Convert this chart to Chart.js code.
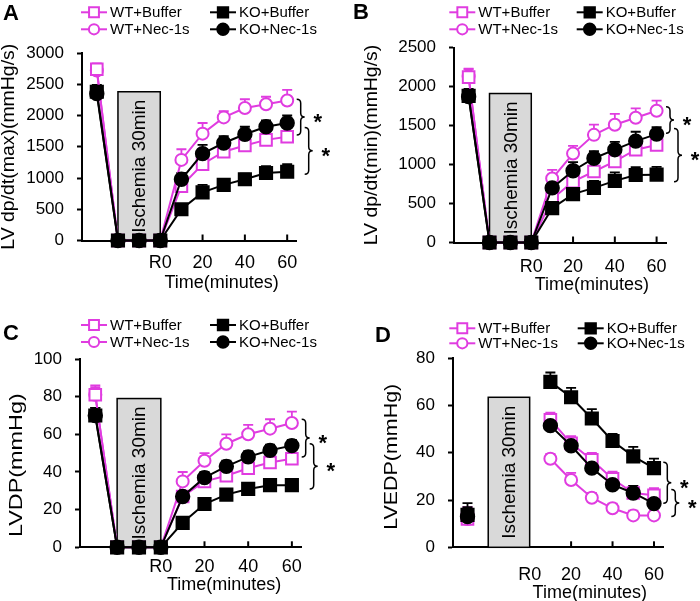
<!DOCTYPE html>
<html>
<head>
<meta charset="utf-8">
<script src="https://cdn.jsdelivr.net/npm/chart.js@4.4.0/dist/chart.umd.min.js"></script>
<style>
  html, body { margin: 0; padding: 0; background: #fff; }
  #wrap { position: relative; width: 700px; height: 601px; overflow: hidden; }
  canvas { position: absolute; }
</style>
</head>
<body>
<div id="wrap">
  <canvas id="panelA" width="350" height="300" style="left:0;top:0"></canvas>
  <canvas id="panelB" width="350" height="300" style="left:350px;top:0"></canvas>
  <canvas id="panelC" width="350" height="301" style="left:0;top:300px"></canvas>
  <canvas id="panelD" width="350" height="301" style="left:350px;top:300px"></canvas>
</div>
<script>
// os czasu: baseline, 3 punkty niedokrwienia, R0 i reperfuzja
const timePoints = [-30, -20, -10, 0, 10, 20, 30, 40, 50, 60];
const xTickValues = [0, 20, 40, 60];
const seriesLabels = ['WT+Buffer', 'WT+Nec-1s', 'KO+Buffer', 'KO+Nec-1s'];

// A - LV dp/dt(max)
const dpdtMaxWtBuffer = [2740, 0, 0, 0, 870, 1220, 1420, 1520, 1610, 1660];
const dpdtMaxWtNec = [2720, 0, 0, 0, 1290, 1710, 1970, 2120, 2180, 2240];
const dpdtMaxKoBuffer = [2380, 0, 0, 0, 500, 770, 890, 980, 1080, 1100];
const dpdtMaxKoNec = [2350, 0, 0, 0, 980, 1390, 1560, 1700, 1820, 1880];
const dpdtMaxWtBufferErr = [90, 0, 0, 0, 70, 90, 70, 70, 70, 60];
const dpdtMaxWtNecErr = [110, 0, 0, 0, 170, 170, 100, 140, 120, 170];
const dpdtMaxKoBufferErr = [110, 0, 0, 0, 80, 120, 80, 90, 110, 120];
const dpdtMaxKoNecErr = [120, 0, 0, 0, 100, 140, 110, 120, 100, 120];

// B - LV dp/dt(min)
const dpdtMinWtBuffer = [2120, 0, 0, 0, 560, 780, 910, 1040, 1190, 1250];
const dpdtMinWtNec = [2130, 0, 0, 0, 820, 1140, 1380, 1510, 1600, 1690];
const dpdtMinKoBuffer = [1880, 0, 0, 0, 440, 620, 700, 790, 865, 870];
const dpdtMinKoNec = [1870, 0, 0, 0, 700, 920, 1080, 1190, 1300, 1390];
const dpdtMinWtBufferErr = [100, 0, 0, 0, 60, 70, 70, 80, 70, 60];
const dpdtMinWtNecErr = [100, 0, 0, 0, 110, 100, 130, 140, 120, 130];
const dpdtMinKoBufferErr = [90, 0, 0, 0, 70, 80, 90, 110, 100, 100];
const dpdtMinKoNecErr = [80, 0, 0, 0, 90, 110, 90, 100, 120, 90];

// C - LVDP
const lvdpWtBuffer = [81, 0, 0, 0, 27, 35, 38, 42, 45, 47];
const lvdpWtNec = [81, 0, 0, 0, 35, 46, 55, 60, 63, 66];
const lvdpKoBuffer = [70, 0, 0, 0, 13, 23, 28, 31, 33, 33];
const lvdpKoNec = [70, 0, 0, 0, 27, 37, 43, 48, 51.5, 54];
const lvdpWtBufferErr = [4, 0, 0, 0, 3, 3, 3, 3, 3, 3];
const lvdpWtNecErr = [5, 0, 0, 0, 5, 4, 5, 5, 5, 6];
const lvdpKoBufferErr = [4, 0, 0, 0, 3, 3, 3, 3, 3, 3];
const lvdpKoNecErr = [4, 0, 0, 0, 3, 3, 3, 3, 3, 3];

// D - LVEDP (brak pomiarow w czasie niedokrwienia)
const lvedpWtBuffer = [12, null, null, null, 54, 44, 37, 29, 23, 22];
const lvedpWtNec = [12, null, null, null, 37.5, 28.5, 21, 16.5, 13.5, 13.5];
const lvedpKoBuffer = [13.7, null, null, null, 70, 63.5, 54.5, 45, 38.5, 33.5];
const lvedpKoNec = [13, null, null, null, 51.5, 43, 33.5, 26.5, 23, 18.5];
const lvedpWtBufferErr = [5, 0, 0, 0, 3, 3, 3, 3, 3, 3];
const lvedpWtNecErr = [4, 0, 0, 0, 2, 3, 2, 2, 2, 2];
const lvedpKoBufferErr = [5, 0, 0, 0, 4, 4, 4, 3, 4, 4];
const lvedpKoNecErr = [4, 0, 0, 0, 3, 3, 3, 3, 3, 3];

const panelLetters = ['A', 'B', 'C', 'D'];
const yTitles = ['LV dp/dt(max)(mmHg/s)', 'LV dp/dt(min)(mmHg/s)', 'LVDP(mmHg)', 'LVEDP(mmHg)'];
const yMaxValues = [3000, 2500, 100, 80];
const yStepValues = [500, 500, 20, 20];
const ischemiaRange = [-20, 0];
const ischemiaTop = [2380, 1910, 79, 63.5];
const braceA = [[2260, 1690], [1810, 1060]];
const braceB = [[1740, 1400], [1460, 780]];
const braceC = [[68, 48], [55, 31]];
const braceD = [[36, 18.6], [24.5, 13]];

const FONT = 'Arial, "Liberation Sans", Helvetica, sans-serif';
const MAGENTA = '#e03ce0';
Chart.defaults.font.family = FONT;
Chart.defaults.color = '#000';

const seriesStyles = [
    { color: MAGENTA, pointStyle: 'rect', radius: 8.2, fill: '#fff', order: 1 },
    { color: MAGENTA, pointStyle: 'circle', radius: 6, fill: '#fff', order: 1 },
    { color: '#000', pointStyle: 'rect', radius: 8.6, fill: '#000', order: 0 },
    { color: '#000', pointStyle: 'circle', radius: 6.7, fill: '#000', order: 0 }
];

// rozmieszczenie paneli (piksele w obrebie canvasu)
const panelLayouts = [
    { left: 82, right: 296.7, top: 53, bottom: 240.5, tickPad: 12, xTitleGap: 43, yTitleX: 9, yTitleShift: 0, yStretch: 1.08,
      legendX: 81, legendCol2: 210, legendY: [12.3, 29.3], letterX: 3, letterY: 20 },
    { left: 104, right: 316, top: 47.5, bottom: 242.5, tickPad: 13.4, xTitleGap: 42.5, yTitleX: 22, yTitleShift: 0, yStretch: 1.08,
      legendX: 99.3, legendCol2: 226.7, legendY: [12.3, 29.3], letterX: 3, letterY: 19 },
    { left: 80, right: 301.7, top: 59, bottom: 247.3, tickPad: 8.6, xTitleGap: 37.7, yTitleX: 16.7, yTitleShift: 12, yStretch: 1.3,
      legendX: 81, legendCol2: 210, legendY: [25, 42], letterX: 3, letterY: 40 },
    { left: 103, right: 313.3, top: 58.3, bottom: 247.3, tickPad: 17, xTitleGap: 45.7, yTitleX: 41.7, yTitleShift: 4, yStretch: 1.19,
      legendX: 99.3, legendCol2: 227.7, legendY: [28.3, 43.3], letterX: 25, letterY: 42 }
];

const panelSeries = [
    [dpdtMaxWtBuffer, dpdtMaxWtNec, dpdtMaxKoBuffer, dpdtMaxKoNec],
    [dpdtMinWtBuffer, dpdtMinWtNec, dpdtMinKoBuffer, dpdtMinKoNec],
    [lvdpWtBuffer, lvdpWtNec, lvdpKoBuffer, lvdpKoNec],
    [lvedpWtBuffer, lvedpWtNec, lvedpKoBuffer, lvedpKoNec]
];
const panelErrors = [
    [dpdtMaxWtBufferErr, dpdtMaxWtNecErr, dpdtMaxKoBufferErr, dpdtMaxKoNecErr],
    [dpdtMinWtBufferErr, dpdtMinWtNecErr, dpdtMinKoBufferErr, dpdtMinKoNecErr],
    [lvdpWtBufferErr, lvdpWtNecErr, lvdpKoBufferErr, lvdpKoNecErr],
    [lvedpWtBufferErr, lvedpWtNecErr, lvedpKoBufferErr, lvedpKoNecErr]
];
const panelBraces = [braceA, braceB, braceC, braceD];

function drawBrace(ctx, x, yTop, yBot, w) {
    const mid = (yTop + yBot) / 2;
    const r = Math.min(4, (yBot - yTop) / 4);
    const xm = x + w / 2;
    ctx.beginPath();
    ctx.moveTo(x, yTop);
    ctx.quadraticCurveTo(xm, yTop, xm, yTop + r);
    ctx.lineTo(xm, mid - r);
    ctx.quadraticCurveTo(xm, mid, x + w, mid);
    ctx.quadraticCurveTo(xm, mid, xm, mid + r);
    ctx.lineTo(xm, yBot - r);
    ctx.quadraticCurveTo(xm, yBot, x, yBot);
    ctx.stroke();
}

function makeDecorPlugin(idx) {
    const lay = panelLayouts[idx];
    return {
        id: 'decor' + idx,
        beforeDatasetsDraw(chart) {
            const ctx = chart.ctx;
            const xs = chart.scales.x, ys = chart.scales.y;
            // szary prostokat niedokrwienia
            const bx1 = xs.getPixelForValue(ischemiaRange[0]);
            const bx2 = xs.getPixelForValue(ischemiaRange[1]);
            const by1 = ys.getPixelForValue(ischemiaTop[idx]);
            const by2 = ys.getPixelForValue(0);
            ctx.save();
            ctx.fillStyle = '#d9d9d9';
            ctx.fillRect(bx1, by1, bx2 - bx1, by2 - by1);
            ctx.strokeStyle = '#000';
            ctx.lineWidth = 1.5;
            ctx.strokeRect(bx1, by1, bx2 - bx1, by2 - by1);
            ctx.translate((bx1 + bx2) / 2, (by1 + by2) / 2);
            ctx.rotate(-Math.PI / 2);
            ctx.fillStyle = '#000';
            ctx.font = '19px ' + FONT;
            ctx.textAlign = 'center';
            ctx.textBaseline = 'middle';
            ctx.fillText('Ischemia 30min', 0, 1);
            ctx.restore();

            // slupki bledow (tylko w gore)
            ctx.save();
            chart.data.datasets.forEach((ds, i) => {
                const meta = chart.getDatasetMeta(i);
                ctx.strokeStyle = ds.borderColor;
                ctx.lineWidth = 1.8;
                ds.errors.forEach((err, j) => {
                    const v = ds.data[j].y;
                    if (v === null || !err) return;
                    const pt = meta.data[j];
                    const yTop = ys.getPixelForValue(v + err);
                    ctx.beginPath();
                    ctx.moveTo(pt.x, pt.y);
                    ctx.lineTo(pt.x, yTop);
                    ctx.moveTo(pt.x - 5, yTop);
                    ctx.lineTo(pt.x + 5, yTop);
                    ctx.stroke();
                });
            });
            ctx.restore();
        },
        afterDraw(chart) {
            const ctx = chart.ctx;
            const xs = chart.scales.x, ys = chart.scales.y;
            const area = chart.chartArea;
            ctx.save();
            // kreski osi X skierowane do srodka
            ctx.strokeStyle = '#000';
            ctx.lineWidth = 2;
            xTickValues.slice(1).forEach(v => {
                const px = xs.getPixelForValue(v);
                ctx.beginPath();
                ctx.moveTo(px, area.bottom);
                ctx.lineTo(px, area.bottom - 6);
                ctx.stroke();
            });
            // tytul osi X
            ctx.fillStyle = '#000';
            ctx.font = '18px ' + FONT;
            ctx.textAlign = 'center';
            ctx.textBaseline = 'middle';
            ctx.fillText('Time(minutes)', xs.getPixelForValue(29), area.bottom + lay.xTitleGap);
            // tytul osi Y (rozciagniety jak w oryginale)
            ctx.save();
            ctx.translate(lay.yTitleX, (area.top + area.bottom) / 2 + lay.yTitleShift);
            ctx.rotate(-Math.PI / 2);
            ctx.scale(lay.yStretch, 1);
            ctx.fillText(yTitles[idx], 0, 0);
            ctx.restore();
            // litera panelu
            ctx.font = 'bold 22px ' + FONT;
            ctx.textAlign = 'left';
            ctx.textBaseline = 'alphabetic';
            ctx.fillText(panelLetters[idx], lay.letterX, lay.letterY);
            // legenda
            ctx.font = '15px ' + FONT;
            ctx.textBaseline = 'middle';
            chart.data.datasets.forEach((ds, i) => {
                const lx = i < 2 ? lay.legendX : lay.legendCol2;
                const ly = lay.legendY[i % 2];
                ctx.strokeStyle = ds.borderColor;
                ctx.lineWidth = 2;
                ctx.beginPath();
                ctx.moveTo(lx, ly);
                ctx.lineTo(lx + 26, ly);
                ctx.stroke();
                ctx.fillStyle = ds.pointBackgroundColor;
                ctx.lineWidth = 2;
                Chart.helpers.drawPoint(ctx, {
                    pointStyle: ds.pointStyle,
                    radius: ds.pointRadius * 0.85,
                    rotation: 0,
                    borderWidth: 2
                }, lx + 13, ly);
                ctx.fillStyle = '#000';
                ctx.fillText(ds.label, lx + 29, ly + 1);
            });
            // klamry i gwiazdki
            ctx.strokeStyle = '#000';
            ctx.lineWidth = 1.5;
            ctx.font = 'bold 22px ' + FONT;
            ctx.textAlign = 'center';
            ctx.textBaseline = 'alphabetic';
            panelBraces[idx].forEach((range, k) => {
                const y1 = ys.getPixelForValue(range[0]);
                const y2 = ys.getPixelForValue(range[1]);
                const bx = area.right + (k === 0 ? 0 : 8);
                drawBrace(ctx, bx, y1, y2, 8);
                ctx.fillText('*', area.right + (k === 0 ? 21 : 29), (y1 + y2) / 2 + 12);
            });
            ctx.restore();
        }
    };
}

function makePanel(idx) {
    const lay = panelLayouts[idx];
    const canvas = document.getElementById('panel' + panelLetters[idx]);
    const W = canvas.width, H = canvas.height;
    const datasets = seriesLabels.map((label, i) => {
        const st = seriesStyles[i];
        return {
            label: label,
            data: timePoints.map((t, j) => ({ x: t, y: panelSeries[idx][i][j] })),
            errors: panelErrors[idx][i],
            borderColor: st.color,
            borderWidth: 2,
            pointStyle: st.pointStyle,
            pointRadius: st.radius,
            pointBorderWidth: 2,
            pointBorderColor: st.color,
            pointBackgroundColor: st.fill,
            tension: 0,
            spanGaps: false,
            clip: false,
            order: st.order
        };
    });

    new Chart(canvas, {
        type: 'line',
        data: { datasets: datasets },
        options: {
            responsive: false,
            animation: false,
            devicePixelRatio: 1,
            layout: { padding: { left: 0, top: lay.top, right: W - lay.right, bottom: 0 } },
            plugins: { legend: { display: false }, tooltip: { enabled: false } },
            scales: {
                x: {
                    type: 'linear',
                    min: -37,
                    max: 64.5,
                    afterBuildTicks: scale => { scale.ticks = xTickValues.map(v => ({ value: v })); },
                    afterFit: scale => { scale.height = H - lay.bottom; },
                    grid: { drawOnChartArea: false, drawTicks: false },
                    border: { color: '#000', width: 2 },
                    ticks: {
                        autoSkip: false,
                        maxRotation: 0,
                        padding: lay.tickPad,
                        font: { size: 18 },
                        color: '#000',
                        callback: v => (v === 0 ? 'R0' : String(v))
                    }
                },
                y: {
                    min: 0,
                    max: yMaxValues[idx],
                    afterFit: scale => { scale.width = lay.left; },
                    grid: { drawOnChartArea: false, tickLength: 5, tickWidth: 2, tickColor: '#000' },
                    border: { color: '#000', width: 2 },
                    ticks: {
                        stepSize: yStepValues[idx],
                        padding: 13,
                        font: { size: 17 },
                        color: '#000',
                        callback: v => String(v)
                    }
                }
            }
        },
        plugins: [makeDecorPlugin(idx)]
    });
}

[0, 1, 2, 3].forEach(makePanel);
</script>
</body>
</html>
